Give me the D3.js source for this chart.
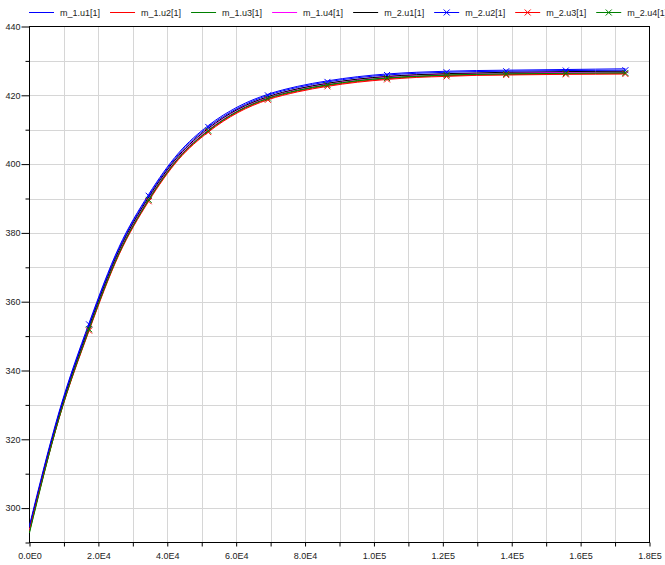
<!DOCTYPE html>
<html>
<head>
<meta charset="utf-8">
<script src="https://cdn.jsdelivr.net/npm/d3@7"></script>
<style>
  body { margin: 0; background: #fff; }
  text { font-family: "Liberation Sans", Arial, sans-serif; font-size: 9px; fill: #222; }
</style>
</head>
<body>
<script>
// time samples (s)
var time = [0, 8650, 17300, 25950, 34600, 43250, 51900, 60550, 69200, 77850, 86500,
            95150, 103800, 112450, 121100, 129750, 138400, 147050, 155700, 164350, 173000]

var m1u1 = [295.0, 328.2, 353.8, 375.8, 391.2, 403.2, 411.2, 416.7, 420.3, 422.6, 424.2, 425.4, 426.2, 426.7, 427.0, 427.2, 427.3, 427.4, 427.5, 427.6, 427.7]
var m1u2 = [293.6, 326.5, 351.8, 373.8, 389.4, 401.5, 409.5, 415.2, 418.9, 421.2, 422.8, 424.0, 424.8, 425.4, 425.7, 425.9, 426.0, 426.1, 426.2, 426.25, 426.3]
var m1u3 = [293.2, 326.6, 352.2, 374.2, 389.8, 401.8, 409.8, 415.5, 419.2, 421.5, 423.1, 424.3, 425.1, 425.6, 425.9, 426.1, 426.3, 426.4, 426.5, 426.55, 426.6]
var m1u4 = [294.0, 327.1, 352.6, 374.6, 390.1, 402.1, 410.1, 415.8, 419.4, 421.8, 423.4, 424.6, 425.4, 425.9, 426.2, 426.4, 426.5, 426.6, 426.65, 426.7, 426.8]
var m2u1 = [294.3, 327.4, 352.9, 374.9, 390.4, 402.4, 410.4, 416.0, 419.6, 421.9, 423.5, 424.7, 425.5, 426.0, 426.3, 426.5, 426.7, 426.8, 426.9, 426.95, 427.0]
var m2u2 = [294.6, 327.8, 353.4, 375.4, 390.8, 402.8, 410.8, 416.3, 420.0, 422.3, 423.9, 425.1, 425.9, 426.4, 426.7, 426.9, 427.0, 427.1, 427.2, 427.25, 427.3]
var m2u3 = [293.4, 326.3, 351.6, 373.6, 389.2, 401.3, 409.3, 415.0, 418.7, 421.0, 422.6, 423.8, 424.6, 425.2, 425.5, 425.8, 425.9, 426.0, 426.1, 426.15, 426.2]
var m2u4 = [292.8, 326.4, 352.0, 374.0, 389.6, 401.7, 409.7, 415.4, 419.1, 421.4, 423.0, 424.2, 425.0, 425.5, 425.9, 426.1, 426.2, 426.3, 426.4, 426.45, 426.5]

var seriesNames = ["m_1.u1[1]", "m_1.u2[1]", "m_1.u3[1]", "m_1.u4[1]",
                   "m_2.u1[1]", "m_2.u2[1]", "m_2.u3[1]", "m_2.u4[1]"]
var seriesValues = [m1u1, m1u2, m1u3, m1u4, m2u1, m2u2, m2u3, m2u4]
var seriesColors = ["#0000ff", "#ff0000", "#008000", "#ff00ff", "#000000", "#0000ff", "#ff0000", "#008000"]
var seriesMarker = [false, false, false, false, false, true, true, true]

var xTicks = [0, 20000, 40000, 60000, 80000, 100000, 120000, 140000, 160000, 180000]
var xTickLabels = ["0.0E0", "2.0E4", "4.0E4", "6.0E4", "8.0E4", "1.0E5", "1.2E5", "1.4E5", "1.6E5", "1.8E5"]
var yTicks = [300, 320, 340, 360, 380, 400, 420, 440]

var showChart = function() {

  var w = 665
  var h = 565
  var pl = 29.5, pr = 649.5, pt = 26.5, pb = 542.5   // plot box edges

  var svg = d3.select("body").append("svg")
    .attr("width", w)
    .attr("height", h)

  var x = d3.scaleLinear().domain([0, 180000]).range([pl, pr])
  var y = d3.scaleLinear().domain([290, 440]).range([pb, pt])

  // grid (every 1E4 in x, every 10 in y)
  var xGrid = d3.range(0, 180001, 10000)
  var yGrid = d3.range(290, 441, 10)

  svg.append("g").selectAll("line")
    .data(xGrid.slice(1, -1))
    .enter().append("line")
    .attr("x1", function (d) { return Math.round(x(d)) + 0.5 })
    .attr("x2", function (d) { return Math.round(x(d)) + 0.5 })
    .attr("y1", pt).attr("y2", pb)
    .attr("stroke", "#d6d6d6")

  svg.append("g").selectAll("line")
    .data(yGrid.slice(1, -1))
    .enter().append("line")
    .attr("y1", function (d) { return Math.round(y(d)) + 0.5 })
    .attr("y2", function (d) { return Math.round(y(d)) + 0.5 })
    .attr("x1", pl).attr("x2", pr)
    .attr("stroke", "#d6d6d6")

  // axes
  var gx = svg.append("g")
    .attr("transform", "translate(0," + pb + ")")
    .call(d3.axisBottom(x)
      .tickValues(xTicks)
      .tickSize(4)
      .tickPadding(6)
      .tickFormat(function (d, i) { return xTickLabels[i] }))
  gx.select(".domain").remove()

  svg.append("g")
    .attr("transform", "translate(0," + pb + ")")
    .call(d3.axisBottom(x).tickValues(xGrid.filter(function (d) { return d % 20000 != 0 })).tickSize(4).tickFormat(""))
    .select(".domain").remove()

  var gy = svg.append("g")
    .attr("transform", "translate(" + pl + ",0)")
    .call(d3.axisLeft(y)
      .tickValues(yTicks)
      .tickSize(8)
      .tickPadding(1))
  gy.select(".domain").remove()

  svg.append("g")
    .attr("transform", "translate(" + pl + ",0)")
    .call(d3.axisLeft(y).tickValues(yGrid.filter(function (d) { return d % 20 != 0 })).tickSize(4).tickFormat(""))
    .select(".domain").remove()

  svg.selectAll(".tick text")
    .attr("fill", null)
    .attr("font-family", null)
    .attr("font-size", null)
  svg.selectAll("g[font-family]").attr("font-family", null).attr("font-size", null)
  svg.selectAll(".tick line").attr("stroke", "#000")

  // frame
  svg.append("rect")
    .attr("x", pl).attr("y", pt)
    .attr("width", pr - pl).attr("height", pb - pt)
    .attr("fill", "none")
    .attr("stroke", "#000")

  // curves
  var line = d3.line()
    .x(function (d, i) { return x(time[i]) })
    .y(function (d) { return y(d) })
    .curve(d3.curveMonotoneX)

  var plot = svg.append("g")

  function cross(g, cx, cy, color) {
    var s = 3
    g.append("path")
      .attr("d", "M" + (cx - s) + "," + (cy - s) + "L" + (cx + s) + "," + (cy + s) +
                 "M" + (cx - s) + "," + (cy + s) + "L" + (cx + s) + "," + (cy - s))
      .attr("stroke", color)
      .attr("fill", "none")
  }

  seriesValues.forEach(function (vals, k) {
    plot.append("path")
      .attr("d", line(vals))
      .attr("fill", "none")
      .attr("stroke", seriesColors[k])
      .attr("stroke-width", 1)
    if (seriesMarker[k]) {
      vals.forEach(function (v, i) {
        if (i > 0 && i % 2 == 0) cross(plot, x(time[i]), y(v), seriesColors[k])
      })
    }
  })

  // legend
  var legend = svg.append("g").attr("transform", "translate(0,12.5)")
  var lx = 29
  seriesNames.forEach(function (name, k) {
    var item = legend.append("g")
    item.append("line")
      .attr("x1", lx).attr("x2", lx + 25)
      .attr("y1", 0).attr("y2", 0)
      .attr("stroke", seriesColors[k])
    if (seriesMarker[k]) cross(item, lx + 12.5, 0, seriesColors[k])
    var t = item.append("text")
      .attr("x", lx + 31)
      .attr("y", 0)
      .attr("dy", "0.35em")
      .text(name)
    lx += 31 + t.node().getComputedTextLength() + 10
  })
}

showChart()
</script>
</body>
</html>
